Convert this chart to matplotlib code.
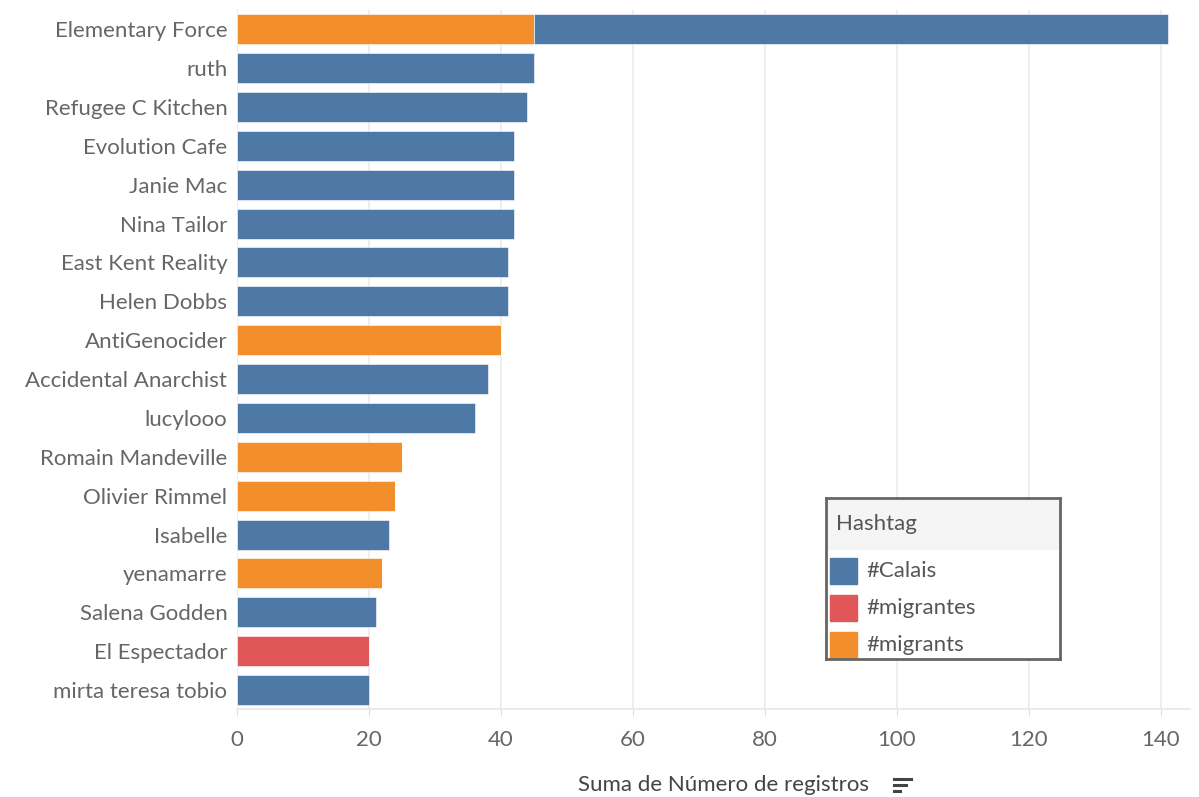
import matplotlib.pyplot as plt
from matplotlib.patches import Rectangle
import numpy as np

names = ["Elementary Force", "ruth", "Refugee C Kitchen", "Evolution Cafe", "Janie Mac",
         "Nina Tailor", "East Kent Reality", "Helen Dobbs", "AntiGenocider",
         "Accidental Anarchist", "lucylooo", "Romain Mandeville", "Olivier Rimmel",
         "Isabelle", "yenamarre", "Salena Godden", "El Espectador", "mirta teresa tobio"]
calais = np.array([96, 45, 44, 42, 42, 42, 41, 41, 0, 38, 36, 0, 0, 23, 0, 21, 0, 20])
migrantes = np.array([0, 0, 0, 0, 0, 0, 0, 0, 0, 0, 0, 0, 0, 0, 0, 0, 20, 0])
migrants = np.array([45, 0, 0, 0, 0, 0, 0, 0, 40, 0, 0, 25, 24, 0, 22, 0, 0, 0])
ticks = [0, 20, 40, 60, 80, 100, 120, 140]

c_calais = "#4e79a7"
c_migrantes = "#e15759"
c_migrants = "#f28e2b"
txt = "#666666"
font = "Lato"
fs = 16

fig = plt.figure(figsize=(11.99, 7.97), dpi=100)
ax = fig.add_axes([0.1977, 0.1098, 0.7948, 0.878])

y = np.arange(len(names))
h = 0.77
ax.barh(y, migrants, height=h, color=c_migrants, edgecolor="white", linewidth=0.4)
ax.barh(y, migrantes, left=migrants, height=h, color=c_migrantes, edgecolor="white", linewidth=0.4)
ax.barh(y, calais, left=migrants + migrantes, height=h, color=c_calais, edgecolor="white", linewidth=0.4)

ax.set_ylim(len(names) - 0.5, -0.5)
ax.set_xlim(0, 144.4)
ax.set_yticks(y)
ax.set_yticklabels(names, fontsize=fs, color=txt, family=font)
ax.set_xticks(ticks)
ax.set_xticklabels([str(t) for t in ticks], fontsize=fs, color=txt, family=font)
ax.tick_params(axis="y", length=0, pad=7)
ax.tick_params(axis="x", length=5, color="#e0e0e0", pad=10)
ax.grid(axis="x", color="#ebebeb", linewidth=1.2)
ax.set_axisbelow(True)
for s in ["top", "right", "left"]:
    ax.spines[s].set_visible(False)
ax.spines["bottom"].set_color("#e6e6e6")
ax.spines["bottom"].set_linewidth(1.2)

fig.text(723 / 1199, (797 - 785) / 797, "Suma de Número de registros", ha="center", va="center",
         fontsize=fs, color="#444444", family=font)
# sort icon
for i, w in enumerate([17, 12, 6]):
    x0 = 894 / 1199
    yy = (797 - 779 - i * 6) / 797
    fig.add_artist(plt.Line2D([x0, x0 + w / 1199], [yy, yy], transform=fig.transFigure,
                              color="#444444", linewidth=2.2))

# legend box
lg = fig.add_axes([826 / 1199, (797 - 659) / 797, 234 / 1199, 161 / 797])
lg.set_xlim(0, 234)
lg.set_ylim(161, 0)
lg.set_xticks([])
lg.set_yticks([])
for s in lg.spines.values():
    s.set_color("#666666")
    s.set_linewidth(2)
lg.add_patch(Rectangle((0, 0), 234, 51, color="#f5f5f5", zorder=0))
lg.text(10, 26, "Hashtag", va="center", fontsize=fs, color="#555555", family=font)
entries = [("#Calais", c_calais), ("#migrantes", c_migrantes), ("#migrants", c_migrants)]
for i, (lab, col) in enumerate(entries):
    yc = 73 + i * 37
    lg.add_patch(Rectangle((4, yc - 13), 27, 26, color=col))
    lg.text(40, yc, lab, va="center", fontsize=fs, color="#555555", family=font)

fig.savefig("out.png", dpi=100)
